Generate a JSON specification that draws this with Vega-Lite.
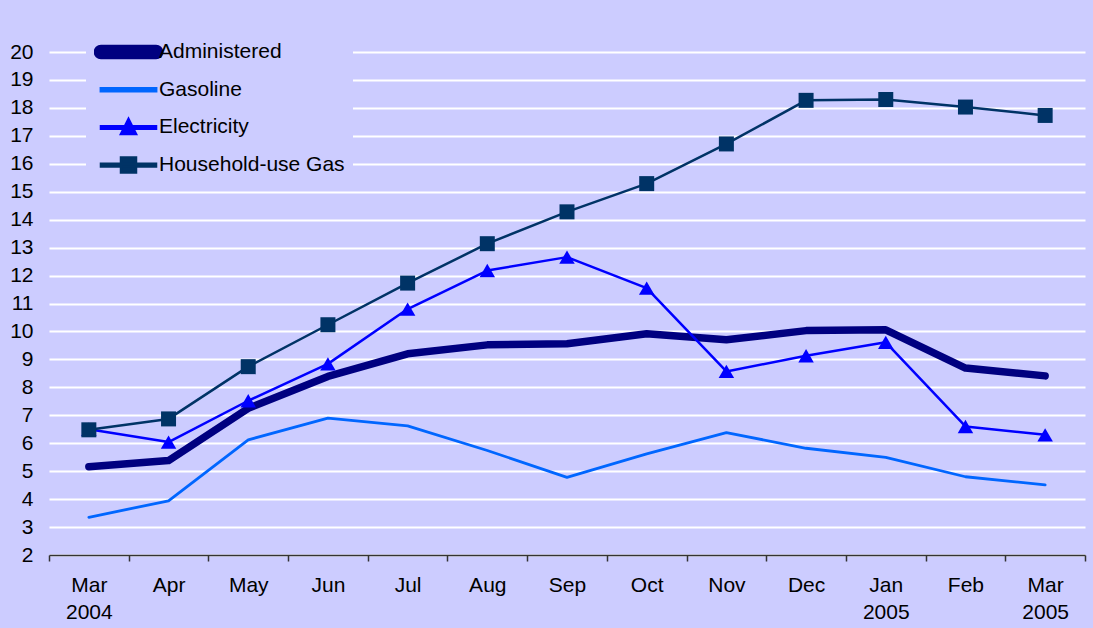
{
  "$schema": "https://vega.github.io/schema/vega-lite/v6.json",
  "width": 1036,
  "height": 503,
  "autosize": {"type": "none"},
  "padding": {"left": 49, "top": 52, "right": 8, "bottom": 73},
  "background": "#CCCCFF",
  "config": {
    "view": {"stroke": null, "fill": "#CCCCFF"},
    "font": "Liberation Sans"
  },
  "data": {
    "values": [
      {"month": "Mar 2004", "series": "Administered", "value": 5.16},
      {"month": "Apr", "series": "Administered", "value": 5.38},
      {"month": "May", "series": "Administered", "value": 7.25},
      {"month": "Jun", "series": "Administered", "value": 8.39},
      {"month": "Jul", "series": "Administered", "value": 9.2},
      {"month": "Aug", "series": "Administered", "value": 9.52},
      {"month": "Sep", "series": "Administered", "value": 9.56},
      {"month": "Oct", "series": "Administered", "value": 9.92},
      {"month": "Nov", "series": "Administered", "value": 9.7},
      {"month": "Dec", "series": "Administered", "value": 10.03},
      {"month": "Jan 2005", "series": "Administered", "value": 10.06},
      {"month": "Feb", "series": "Administered", "value": 8.69},
      {"month": "Mar 2005", "series": "Administered", "value": 8.41},
      {"month": "Mar 2004", "series": "Gasoline", "value": 3.35},
      {"month": "Apr", "series": "Gasoline", "value": 3.94},
      {"month": "May", "series": "Gasoline", "value": 6.12},
      {"month": "Jun", "series": "Gasoline", "value": 6.9},
      {"month": "Jul", "series": "Gasoline", "value": 6.62},
      {"month": "Aug", "series": "Gasoline", "value": 5.74},
      {"month": "Sep", "series": "Gasoline", "value": 4.78},
      {"month": "Oct", "series": "Gasoline", "value": 5.62},
      {"month": "Nov", "series": "Gasoline", "value": 6.38},
      {"month": "Dec", "series": "Gasoline", "value": 5.82},
      {"month": "Jan 2005", "series": "Gasoline", "value": 5.49},
      {"month": "Feb", "series": "Gasoline", "value": 4.8},
      {"month": "Mar 2005", "series": "Gasoline", "value": 4.51},
      {"month": "Mar 2004", "series": "Electricity", "value": 6.5},
      {"month": "Apr", "series": "Electricity", "value": 6.04},
      {"month": "May", "series": "Electricity", "value": 7.52},
      {"month": "Jun", "series": "Electricity", "value": 8.84},
      {"month": "Jul", "series": "Electricity", "value": 10.8},
      {"month": "Aug", "series": "Electricity", "value": 12.18},
      {"month": "Sep", "series": "Electricity", "value": 12.66},
      {"month": "Oct", "series": "Electricity", "value": 11.55},
      {"month": "Nov", "series": "Electricity", "value": 8.57},
      {"month": "Dec", "series": "Electricity", "value": 9.13},
      {"month": "Jan 2005", "series": "Electricity", "value": 9.61},
      {"month": "Feb", "series": "Electricity", "value": 6.6},
      {"month": "Mar 2005", "series": "Electricity", "value": 6.3},
      {"month": "Mar 2004", "series": "Household-use Gas", "value": 6.48},
      {"month": "Apr", "series": "Household-use Gas", "value": 6.87},
      {"month": "May", "series": "Household-use Gas", "value": 8.74},
      {"month": "Jun", "series": "Household-use Gas", "value": 10.24},
      {"month": "Jul", "series": "Household-use Gas", "value": 11.73},
      {"month": "Aug", "series": "Household-use Gas", "value": 13.14},
      {"month": "Sep", "series": "Household-use Gas", "value": 14.28},
      {"month": "Oct", "series": "Household-use Gas", "value": 15.29},
      {"month": "Nov", "series": "Household-use Gas", "value": 16.71},
      {"month": "Dec", "series": "Household-use Gas", "value": 18.27},
      {"month": "Jan 2005", "series": "Household-use Gas", "value": 18.3},
      {"month": "Feb", "series": "Household-use Gas", "value": 18.03},
      {"month": "Mar 2005", "series": "Household-use Gas", "value": 17.73}
    ]
  },
  "encoding": {
    "x": {
      "field": "month",
      "type": "ordinal",
      "sort": ["Mar 2004", "Apr", "May", "Jun", "Jul", "Aug", "Sep", "Oct", "Nov", "Dec", "Jan 2005", "Feb", "Mar 2005"],
      "scale": {"type": "band", "paddingInner": 0, "paddingOuter": 0},
      "axis": {
        "title": null,
        "labelAngle": 0,
        "labelExpr": "isValid(datum.value) ? split(datum.value, ' ') : ''",
        "labelFontSize": 21,
        "labelColor": "#000000",
        "labelLineHeight": 27,
        "labelPadding": 13,
        "tickBand": "extent",
        "tickSize": 6,
        "tickColor": "#333333",
        "tickWidth": 1.5,
        "domainColor": "#333333",
        "domainWidth": 1.5,
        "grid": false,
        "zindex": 1
      }
    },
    "y": {
      "field": "value",
      "type": "quantitative",
      "scale": {"domain": [2, 20], "nice": false, "zero": false},
      "axis": {
        "title": null,
        "values": [2, 3, 4, 5, 6, 7, 8, 9, 10, 11, 12, 13, 14, 15, 16, 17, 18, 19, 20],
        "domain": false,
        "ticks": false,
        "tickSize": 0,
        "labelPadding": 16,
        "labelFontSize": 21,
        "labelColor": "#000000",
        "grid": true,
        "gridColor": "#FFFFFF",
        "gridWidth": 2,
        "gridOpacity": 1
      }
    }
  },
  "layer": [
    {
      "mark": {"type": "line", "strokeCap": "round", "strokeJoin": "round"},
      "encoding": {
        "color": {
          "field": "series",
          "type": "nominal",
          "scale": {
            "domain": ["Administered", "Gasoline", "Electricity", "Household-use Gas"],
            "range": ["#000080", "#0066FF", "#0000FF", "#003366"]
          },
          "legend": {
            "title": null,
            "orient": "none",
            "legendX": 37,
            "legendY": -23,
            "fillColor": "#CCCCFF",
            "padding": 8,
            "labelFontSize": 21,
            "labelColor": "#000000",
            "labelLimit": 400,
            "symbolSize": 225,
            "symbolOffset": 23,
            "labelOffset": 19,
            "clipHeight": 30,
            "rowPadding": 7.7,
            "encode": {
              "symbols": {
                "update": {
                  "shape": {"signal": "datum.value === 'Administered' ? 'M-3.67,-0.47H3.67A0.47,0.47 0 0 1 3.67,0.47H-3.67A0.47,0.47 0 0 1 -3.67,-0.47Z' : datum.value === 'Gasoline' ? 'M-3.67,-0.17H3.67V0.17H-3.67Z' : datum.value === 'Electricity' ? 'M-3.67,-0.17H3.67V0.17H-3.67Z M-1,0.88L0,-1.12L1,0.88Z' : 'M-3.67,-0.17H3.67V0.17H-3.67Z M-1,-1H1V1H-1Z'"},
                  "fill": {"scale": "color", "field": "value"},
                  "fillOpacity": {"value": 1},
                  "opacity": {"value": 1},
                  "stroke": {"value": "transparent"},
                  "strokeWidth": {"value": 0},
                  "size": {"value": 225}
                }
              }
            }
          }
        },
        "strokeWidth": {
          "field": "series",
          "type": "nominal",
          "scale": {
            "type": "ordinal",
            "domain": ["Administered", "Gasoline", "Electricity", "Household-use Gas"],
            "range": [7.5, 2.8, 2.5, 2.5]
          },
          "legend": null
        }
      }
    },
    {
      "transform": [{"filter": {"field": "series", "oneOf": ["Electricity", "Household-use Gas"]}}],
      "mark": {"type": "point", "filled": true, "opacity": 1},
      "encoding": {
        "color": {
          "field": "series",
          "type": "nominal",
          "scale": {
            "domain": ["Administered", "Gasoline", "Electricity", "Household-use Gas"],
            "range": ["#000080", "#0066FF", "#0000FF", "#003366"]
          }
        },
        "shape": {
          "field": "series",
          "type": "nominal",
          "scale": {"domain": ["Electricity", "Household-use Gas"], "range": ["triangle-up", "square"]},
          "legend": null
        },
        "size": {
          "field": "series",
          "type": "nominal",
          "scale": {"type": "ordinal", "domain": ["Electricity", "Household-use Gas"], "range": [240, 225]},
          "legend": null
        }
      }
    }
  ]
}
